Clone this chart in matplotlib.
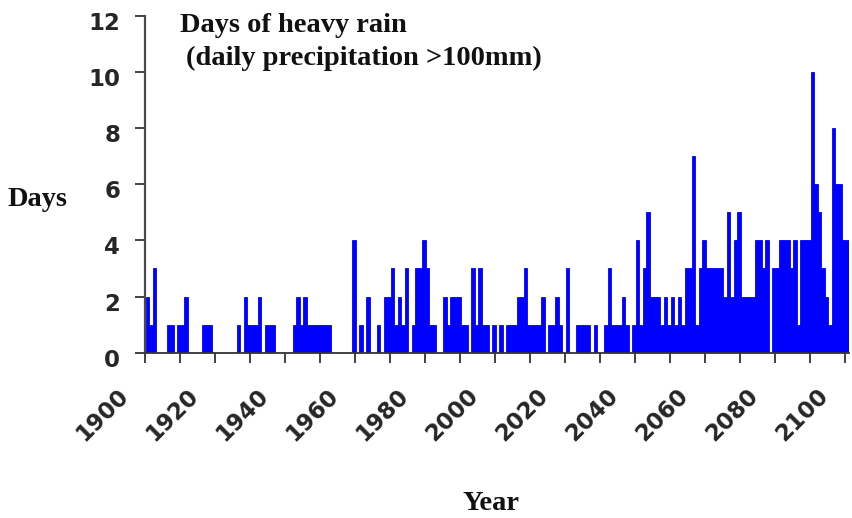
import matplotlib
matplotlib.use("Agg")
import matplotlib.pyplot as plt
from matplotlib.transforms import ScaledTranslation
import numpy as np

# Annual number of days with daily precipitation above 100 mm, 1900-2100
years = np.arange(1900, 2101)
heavy_rain_days = [
    2, 1, 3, 0, 0, 0, 1, 1, 0, 1,   # 1900s
    1, 2, 0, 0, 0, 0, 1, 1, 1, 0,   # 1910s
    0, 0, 0, 0, 0, 0, 1, 0, 2, 1,   # 1920s
    1, 1, 2, 0, 1, 1, 1, 0, 0, 0,   # 1930s
    0, 0, 1, 2, 1, 2, 1, 1, 1, 1,   # 1940s
    1, 1, 1, 0, 0, 0, 0, 0, 0, 4,   # 1950s
    0, 1, 0, 2, 0, 0, 1, 0, 2, 2,   # 1960s
    3, 1, 2, 1, 3, 0, 1, 3, 3, 4,   # 1970s
    3, 1, 1, 0, 0, 2, 1, 2, 2, 2,   # 1980s
    1, 1, 0, 3, 1, 3, 1, 1, 0, 1,   # 1990s
    0, 1, 0, 1, 1, 1, 2, 2, 3, 1,   # 2000s
    1, 1, 1, 2, 0, 1, 1, 2, 1, 0,   # 2010s
    3, 0, 0, 1, 1, 1, 1, 0, 1, 0,   # 2020s
    0, 1, 3, 1, 1, 1, 2, 1, 0, 1,   # 2030s
    4, 1, 3, 5, 2, 2, 2, 1, 2, 1,   # 2040s
    2, 1, 2, 1, 3, 3, 7, 1, 3, 4,   # 2050s
    3, 3, 3, 3, 3, 2, 5, 2, 4, 5,   # 2060s
    2, 2, 2, 2, 4, 4, 3, 4, 0, 3,   # 2070s
    3, 4, 4, 4, 3, 4, 1, 4, 4, 4,   # 2080s
    10, 6, 5, 3, 2, 1, 8, 6, 6, 4,  # 2090s
    4,                              # 2100
]
ytick_values = [0, 2, 4, 6, 8, 10, 12]
xtick_labeled = list(range(1900, 2101, 20))
xtick_minor = list(range(1910, 2100, 20))

title_lines = ["Days of heavy rain", "(daily precipitation >100mm)"]
y_label = "Days"
x_label = "Year"

W, H = 852, 518
fig = plt.figure(figsize=(W / 100, H / 100), dpi=100)
fig.patch.set_facecolor("white")

x0, x1 = 145, 848.5
y0, y1 = 352.7, 15.7
ax = fig.add_axes([x0 / W, 1 - y0 / H, (x1 - x0) / W, (y0 - y1) / H])

ax.bar(years + 0.7, heavy_rain_days, width=1.0, color="#0000ff",
       edgecolor="#0000ff", linewidth=0.6, zorder=2)

ax.set_xlim(1900, 2101)
ax.set_ylim(0, 12)

for side in ("top", "right"):
    ax.spines[side].set_visible(False)
ax.spines["left"].set_color("#4a4a4a")
ax.spines["left"].set_linewidth(1.6)
ax.spines["bottom"].set_color("#333333")
ax.spines["bottom"].set_linewidth(1.3)

ax.set_yticks(ytick_values)
ax.set_xticks(xtick_labeled)
ax.set_xticks(xtick_minor, minor=True)

tick_font = dict(family="DejaVu Sans", weight="bold", size=16.5, color="#262626")
ax.tick_params(axis="both", which="both", direction="out", length=7.5,
               width=1.3, color="#333333")
ax.tick_params(axis="x", which="major", pad=15)
ax.tick_params(axis="y", which="major", pad=10.5)

ax.set_xticklabels([str(v) for v in xtick_labeled], rotation=45,
                   ha="right", va="top", **tick_font)
ax.set_yticklabels([str(v) for v in ytick_values], **tick_font)

shift_x = ScaledTranslation(-0.12, 0, fig.dpi_scale_trans)
for lab in ax.get_xticklabels():
    lab.set_transform(lab.get_transform() + shift_x)
shift_y = ScaledTranslation(0, -0.05, fig.dpi_scale_trans)
for lab in ax.get_yticklabels():
    lab.set_transform(lab.get_transform() + shift_y)

serif_bold = dict(family="Liberation Serif", weight="bold", size=20.5,
                  color="#111111")
fig.text(180 / W, 1 - 32 / H, title_lines[0], va="baseline", ha="left", **serif_bold)
fig.text(186 / W, 1 - 65 / H, title_lines[1], va="baseline", ha="left", **serif_bold)
fig.text(8 / W, 1 - 206 / H, y_label, va="baseline", ha="left", **serif_bold)
fig.text(491 / W, 1 - 510 / H, x_label, va="baseline", ha="center", **serif_bold)

fig.savefig("out.png", dpi=100, facecolor="white")
